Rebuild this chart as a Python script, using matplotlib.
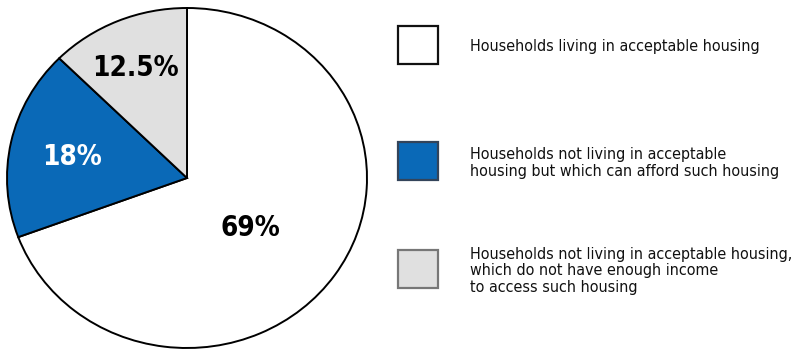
import matplotlib.pyplot as plt
from matplotlib.patches import Rectangle

# Données
shares = [69, 18, 12.5]
pct_labels = ['69%', '18%', '12.5%']
legend_labels = [
    'Households living in acceptable housing',
    'Households not living in acceptable\nhousing but which can afford such housing',
    'Households not living in acceptable housing,\nwhich do not have enough income\nto access such housing',
]

colors = ['#ffffff', '#0a69b7', '#e0e0e0']
legend_edges = ['#111111', '#33445a', '#777777']
label_colors = ['black', 'white', 'black']

W, H = 803, 352
fig = plt.figure(figsize=(W / 100, H / 100), dpi=100)

# Camembert (légèrement elliptique comme l'original)
cx, cy, rx, ry = 187, 178, 180, 170
m = 1.02
ax = fig.add_axes([(cx - rx * m) / W, (H - cy - ry * m) / H, 2 * rx * m / W, 2 * ry * m / H])
wedges, _ = ax.pie(shares, colors=colors, startangle=90, counterclock=False,
                   normalize=True,
                   wedgeprops=dict(edgecolor='black', linewidth=1.4))
ax.set_aspect('auto')
ax.set_xlim(-m, m)
ax.set_ylim(-m, m)

# Étiquettes (positions en pixels)
label_pos = [(250, 228), (72, 157), (135, 68)]
overlay = fig.add_axes([0, 0, 1, 1])
overlay.set_xlim(0, W)
overlay.set_ylim(H, 0)
overlay.axis('off')
overlay.patch.set_alpha(0)

for (x, y), txt, c in zip(label_pos, pct_labels, label_colors):
    overlay.text(x, y, txt, fontsize=20, fontweight='bold', color=c,
                 family='DejaVu Sans', fontstretch='condensed', ha='center', va='center')

# Légende
box_tops = [26, 142, 250]
text_y = [47, 163, 271]
for top, ty, lab, fc, ec in zip(box_tops, text_y, legend_labels, colors, legend_edges):
    overlay.add_patch(Rectangle((398, top), 40, 38, facecolor=fc, edgecolor=ec, linewidth=1.6))
    overlay.text(470, ty, lab, fontsize=11.5, family='DejaVu Sans', fontstretch='condensed',
                 ha='left', va='center', linespacing=1.1, color='#111111')

plt.savefig('out.png', dpi=100, facecolor='white')
